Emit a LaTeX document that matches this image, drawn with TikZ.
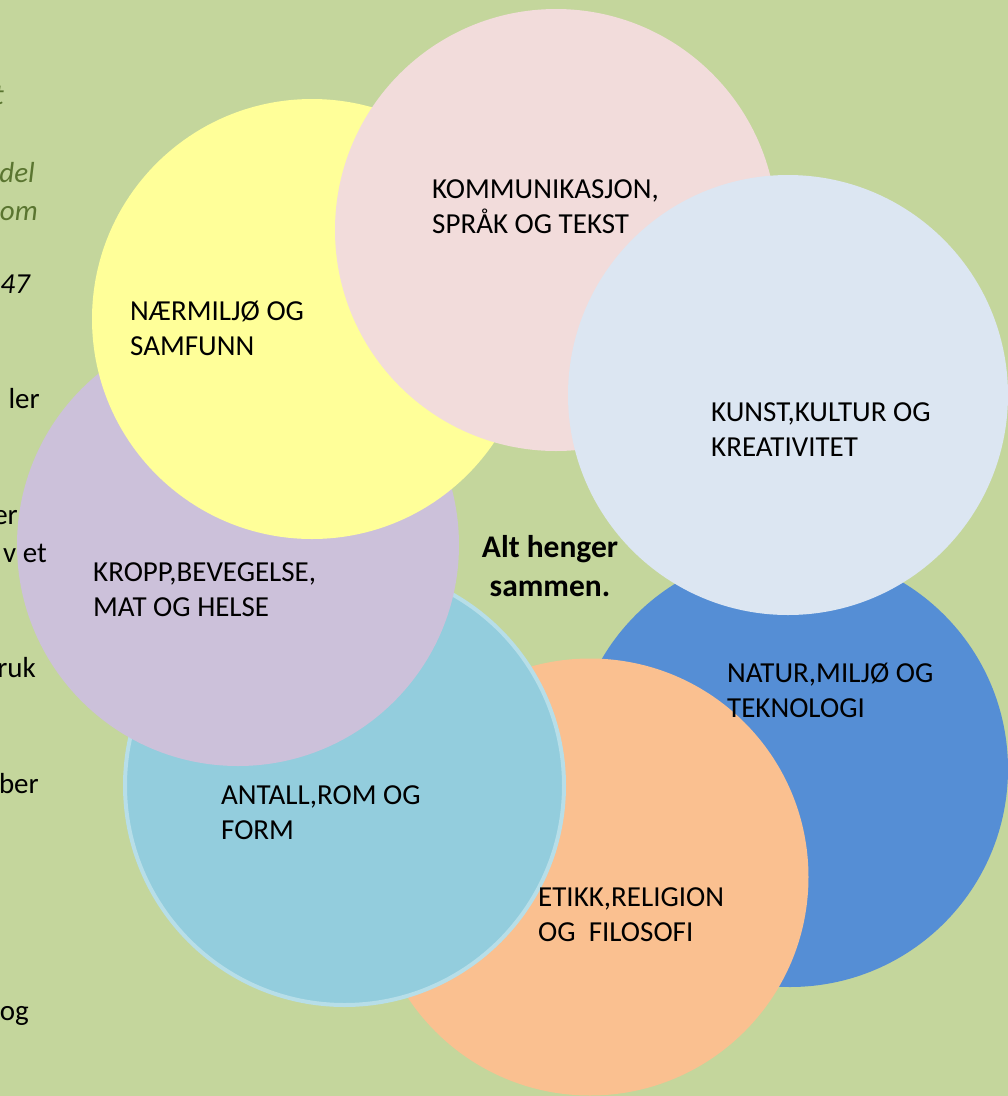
\documentclass[tikz,border=0pt]{standalone}
\usepackage{fontspec}
\setmainfont{Carlito}
\definecolor{bg}{HTML}{C4D69C}
\definecolor{cpink}{HTML}{F2DCDB}
\definecolor{clblue}{HTML}{DCE6F2}
\definecolor{cblue}{HTML}{558ED5}
\definecolor{corange}{HTML}{FAC090}
\definecolor{caqua}{HTML}{93CDDD}
\definecolor{caquaedge}{HTML}{B7DEE8}
\definecolor{cpurple}{HTML}{CCC1DA}
\definecolor{cyellow}{HTML}{FFFF99}
\definecolor{olivetext}{HTML}{5A7530}
\begin{document}
\begin{tikzpicture}[x=1pt,y=-1pt,
  disc/.style={circle, inner sep=0pt, draw=none},
  lbl/.style={anchor=base west, inner sep=0pt, align=left, text=black,
    font=\fontsize{29}{35}\selectfont},
  frag/.style={anchor=base east, inner sep=0pt, text=black,
    font=\fontsize{29}{35}\selectfont},
  fragit/.style={frag, text=olivetext, font=\fontsize{29}{35}\selectfont\itshape},
  title/.style={anchor=base, inner sep=0pt, align=center, text=black,
    font=\fontsize{31.5}{39}\selectfont\bfseries}]
\useasboundingbox (0,0) rectangle (1008,1096);
\clip (0,0) rectangle (1008,1096);
\fill[bg] (0,0) rectangle (1008,1096);
% circles, bottom to top
\node[disc, fill=cblue, minimum size=436pt] (natur) at (790,769) {};
\node[disc, fill=corange, minimum size=437pt] (etikk) at (590,877) {};
\node[disc, fill=caqua, draw=caquaedge, line width=4pt, minimum size=439pt] (antall) at (344.5,785.5) {};
\node[disc, fill=cpurple, minimum size=442pt] (kropp) at (238,545) {};
\node[disc, fill=cyellow, minimum size=440pt] (naer) at (312,319) {};
\node[disc, fill=cpink, minimum size=442pt] (komm) at (556,230) {};
\node[disc, fill=clblue, minimum size=440pt] (kunst) at (788,395) {};
% left-edge fragments of surrounding text
\node[fragit] (f1) at (4,104) {t};
\node[fragit] (f2) at (35,182) {del};
\node[fragit] (f3) at (38,220) {om};
\node[frag, font=\fontsize{29}{35}\selectfont\itshape] (f4) at (30,293) {47};
\node[frag] (f5) at (40,408) {ler};
\node[frag] (f6) at (18,524) {er};
\node[frag] (f7) at (47,562) {v et};
\node[frag] (f8) at (36,677) {ruk};
\node[frag] (f9) at (39,793) {ber};
\node[frag] (f10) at (29,1020) {og};
% labels (base anchor = baseline of the last line)
\node[lbl] (tkomm) at (432,233) {KOMMUNIKASJON,\\SPRÅK OG TEKST};
\node[lbl] (tnaer) at (130,355) {NÆRMILJØ OG\\SAMFUNN};
\node[lbl] (tkunst) at (711,456) {KUNST,KULTUR OG\\KREATIVITET};
\node[lbl] (tkropp) at (93,616) {KROPP,BEVEGELSE,\\MAT OG HELSE};
\node[lbl] (tantall) at (221,839) {ANTALL,ROM OG\\FORM};
\node[lbl] (tnatur) at (727,717) {NATUR,MILJØ OG\\TEKNOLOGI};
\node[lbl] (tetikk) at (538,941) {ETIKK,RELIGION\\OG\ \ FILOSOFI};
\node[title] (ttitle) at (550,596) {Alt henger\\sammen.};
\end{tikzpicture}
\end{document}
